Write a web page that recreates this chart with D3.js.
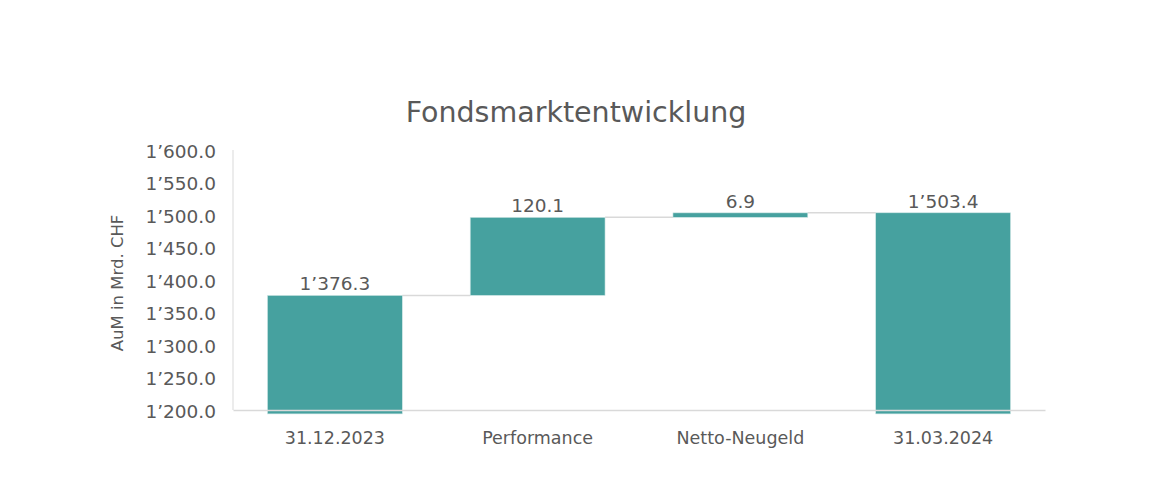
<!DOCTYPE html>
<html><head><meta charset="utf-8">
<script src="https://cdn.jsdelivr.net/npm/d3@7"></script>
<style>body{margin:0;background:#fff;} text{font-family:"DejaVu Sans",sans-serif;fill:#595959;}</style>
</head><body>
<svg id="c" width="1169" height="489"></svg>
<script>
const categories = ["31.12.2023", "Performance", "Netto-Neugeld", "31.03.2024"];
const changes = [1376.3, 120.1, 6.9, 1503.4];
const isTotal = [true, false, false, true];
const dataLabels = ["1’376.3", "120.1", "6.9", "1’503.4"];
const yTicks = [1200, 1250, 1300, 1350, 1400, 1450, 1500, 1550, 1600];
const titleText = "Fondsmarktentwicklung";
const yTitle = "AuM in Mrd. CHF";

const FONT = '"DejaVu Sans",sans-serif';
const loc = d3.formatLocale({decimal: ".", thousands: "’", grouping: [3], currency: ["", ""]});
const fmt = loc.format(",.1f");

let run = 0;
const segs = categories.map((c, i) => {
  let lo, hi;
  if (isTotal[i]) { lo = 1200; hi = changes[i]; run = changes[i]; }
  else { lo = run; hi = run + changes[i]; run = hi; }
  return {c, lo, hi, total: isTotal[i], label: dataLabels[i]};
});

const svg = d3.select("#c");
const L = 233, R = 1045, T = 150, B = 410;
const x = d3.scaleBand().domain(categories).range([L, R]).paddingInner(0.335).paddingOuter(0.17);
const y = d3.scaleLinear().domain([1200, 1600]).range([B, T]);
const teal = "#46A19F";

svg.append("text").attr("x", 576).attr("y", 122).attr("text-anchor", "middle")
  .style("font-size", "28.5px").text(titleText);

const ya = svg.append("g").attr("transform", `translate(${L},1.5)`)
  .call(d3.axisLeft(y).tickValues(yTicks).tickFormat(fmt).tickSize(0).tickPadding(17));
ya.select(".domain").remove();
svg.append("line").attr("x1", L).attr("x2", L).attr("y1", T).attr("y2", B).attr("stroke", "#d9d9d9");
ya.selectAll("text").style("font-size", "18.5px").style("fill", "#595959").style("font-family", FONT);

svg.append("text").attr("transform", `translate(123,${(T+B)/2+3}) rotate(-90)`)
  .attr("text-anchor", "middle").style("font-size", "16.5px").text(yTitle);

for (let i = 0; i < segs.length - 1; i++) {
  const lvl = segs[i].hi;
  svg.append("line").attr("x1", x(segs[i].c) + x.bandwidth()).attr("x2", x(segs[i+1].c))
    .attr("y1", y(lvl)).attr("y2", y(lvl)).attr("stroke", "#d9d9d9").attr("stroke-width", 1.5);
}

svg.selectAll("rect.bar").data(segs).enter().append("rect")
  .attr("x", d => x(d.c)).attr("width", x.bandwidth())
  .attr("y", d => y(d.hi))
  .attr("height", d => (d.total ? y(1194) : y(d.lo)) - y(d.hi))
  .attr("fill", teal).attr("stroke", "#cfe6e5").attr("stroke-width", 0.6);

const xa = svg.append("g").attr("transform", `translate(0,${B})`)
  .call(d3.axisBottom(x).tickSize(0).tickPadding(22));
xa.select(".domain").attr("stroke", "#d9d9d9").attr("stroke-width", 1.5);
xa.selectAll("text").style("font-size", "17.5px").style("fill", "#595959").style("font-family", FONT);

svg.selectAll("text.dl").data(segs).enter().append("text")
  .attr("x", d => x(d.c) + x.bandwidth()/2).attr("y", d => y(d.hi) - 5)
  .attr("text-anchor", "middle").style("font-size", "18.5px").text(d => d.label);
</script>
</body></html>
